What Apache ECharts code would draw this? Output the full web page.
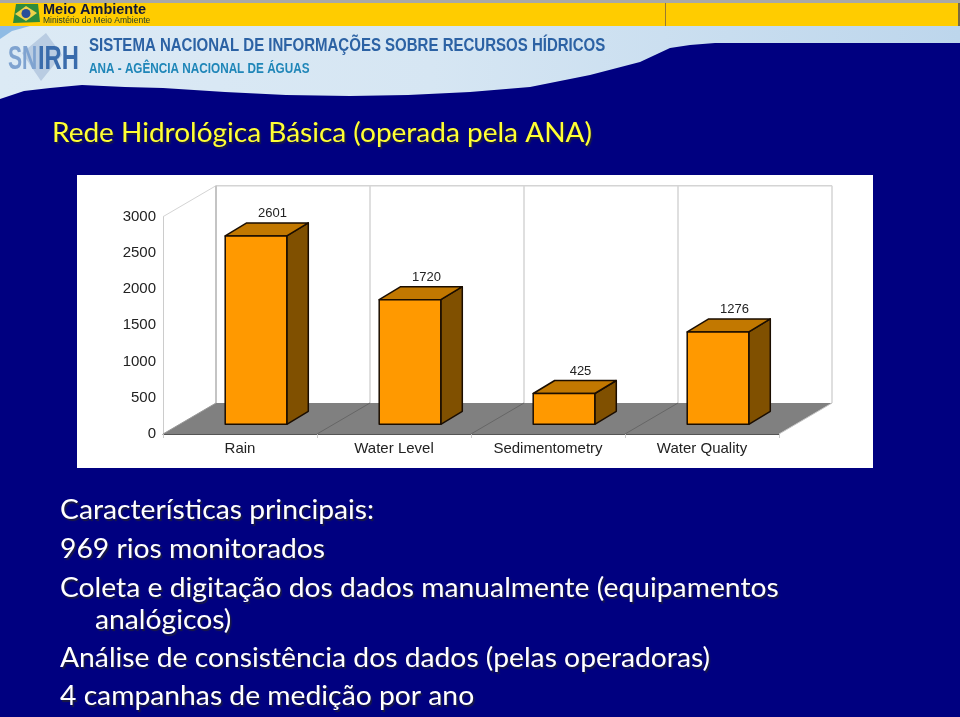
<!DOCTYPE html>
<html><head><meta charset="utf-8">
<style>html,body{margin:0;padding:0;background:#000080}#c{width:960px;height:717px}</style>
<script src="https://cdn.jsdelivr.net/npm/echarts@6/dist/echarts.min.js"></script>
</head><body><div id="c"></div>
<script>
const categories = ['Rain','Water Level','Sedimentometry','Water Quality'];
const stationCounts = [2601,1720,425,1276];
const yMax = 3000, yStep = 500;
const titleText = 'Rede Hidrológica Básica (operada pela ANA)';
const bodyLines = [
 ['Características principais:',60,511],
 ['969 rios monitorados',60,550],
 ['Coleta e digitação dos dados manualmente (equipamentos',60,589],
 ['analógicos)',95,621],
 ['Análise de consistência dos dados (pelas operadoras)',60,659],
 ['4 campanhas de medição por ano',60,697]
];
const wavePts = [[0,99],[12,95],[24,91],[50,88],[82,85],[125,87],[163,88],[225,92],[286,95],[350,96],[408,95],[470,92],[530,87],[590,75],[640,62],[670,48],[690,45],[715,43],[960,43]];

const BAND = 0.4, OFF_X = 16, OFF_Y = -9.7, D_X = 21.5, D_Y = -13, WALL_X = 53, WALL_Y = -31;
const FACE='#FF9900', TOP='#C27800', SIDE='#805000', EDGE='#1a0d00', WALL='#d4d4d4';

function backdrop(params, api){
  const cs = params.coordSys, x0=cs.x, x1=cs.x+cs.width, yT=cs.y, yB=cs.y+cs.height;
  const line=(a,b,c,d,col,w)=>({type:'line',shape:{x1:a,y1:b,x2:c,y2:d},style:{stroke:col,lineWidth:w||1.5}});
  const kids=[{type:'polygon',shape:{points:[[x0,yB],[x1,yB],[x1+WALL_X,yB+WALL_Y],[x0+WALL_X,yB+WALL_Y]]},style:{fill:'#808080'}}];
  kids.push(line(x0,yT,x0+WALL_X,yT+WALL_Y,WALL,1));
  kids.push(line(x0+WALL_X,yT+WALL_Y,x1+WALL_X,yT+WALL_Y,WALL));
  kids.push(line(x0+WALL_X,yT+WALL_Y,x0+WALL_X,yB+WALL_Y,'#c4c4c4',2));
  const bw=cs.width/categories.length;
  for(let i=1;i<=categories.length;i++){
    const x=x0+bw*i;
    kids.push(line(x+WALL_X,yT+WALL_Y,x+WALL_X,yB+WALL_Y,WALL));
    if(i<categories.length) kids.push(line(x,yB,x+WALL_X,yB+WALL_Y,'#666',1));
  }
  kids.push(line(x0,yB,x0+WALL_X,yB+WALL_Y,'#999',1));
  kids.push(line(x1,yB,x1+WALL_X,yB+WALL_Y,'#c4c4c4',1));
  return {type:'group',children:kids};
}
function bar3d(params, api){
  const i=api.value(0), v=api.value(1);
  const top=api.coord([i,v]), base=api.coord([i,0]);
  const w=api.size([1,0])[0]*BAND;
  const l=top[0]-w/2+OFF_X, r=l+w, t=top[1]+OFF_Y, b=base[1]+OFF_Y;
  const st=f=>({fill:f,stroke:EDGE,lineWidth:1.5,lineJoin:'round'});
  return {type:'group',children:[
    {type:'polygon',shape:{points:[[r,t],[r+D_X,t+D_Y],[r+D_X,b+D_Y],[r,b]]},style:st(SIDE)},
    {type:'polygon',shape:{points:[[l,t],[l+D_X,t+D_Y],[r+D_X,t+D_Y],[r,t]]},style:st(TOP)},
    {type:'rect',shape:{x:l,y:t,width:w,height:b-t},style:st(FACE)},
    {type:'text',style:{text:String(v),x:(l+r)/2+16.5,y:t-22.5,align:'center',verticalAlign:'middle',
      font:'13px "Liberation Sans"',fill:'#222'}}
  ]};
}
const txt=(text,x,y,o,sx)=>({type:'text',z:-5,x,y,scaleX:sx||1,originX:0,originY:0,style:Object.assign({text,x:0,y:0,verticalAlign:'middle',align:'left'},o)});
const shadow={textShadowColor:'#1a1a40',textShadowOffsetX:1.5,textShadowOffsetY:1.5,textShadowBlur:1};
const graphic=[
 {type:'rect',z:-10,shape:{x:77,y:175,width:796,height:293},style:{fill:'#fff'}},
 {type:'rect',z:-10,shape:{x:0,y:0,width:960,height:3},style:{fill:'#A8A8A8'}},
 {type:'rect',z:-10,shape:{x:0,y:3,width:960,height:23},style:{fill:'#FFCC00'}},
 {type:'rect',z:-10,shape:{x:665,y:3,width:1,height:23},style:{fill:'#9a7a30'}},
 {type:'rect',z:-10,shape:{x:958,y:3,width:2,height:23},style:{fill:'#7a6a40'}},
 {type:'rect',z:-10,shape:{x:0,y:26,width:960,height:80},style:{fill:{type:'linear',x:0,y:0,x2:1,y2:0,colorStops:[{offset:0,color:'#DCEAF5'},{offset:.45,color:'#D6E6F3'},{offset:1,color:'#BDD6EC'}]}}},
 {type:'polygon',z:-10,shape:{points:[[0,26],[30,26],[12,31],[0,39]]},style:{fill:'#8FBBE4'}},
 {type:'polygon',z:-9,shape:{points:wavePts.concat([[960,175],[0,175]])},style:{fill:'#000080'}},
 // emblem
 {type:'polygon',z:-6,shape:{points:[[16,4],[38,4],[40,22],[13,23]]},style:{fill:'#2E8B3C'}},
 {type:'polygon',z:-6,shape:{points:[[26,6],[37,13],[26,21],[15,14]]},style:{fill:'#EFD24A'}},
 {type:'circle',z:-6,shape:{cx:26,cy:13.5,r:4.5},style:{fill:'#2A4F9A'}},
 txt('Meio Ambiente',43,10,{font:'bold 14.5px "Liberation Sans"',fill:'#10183a'}),
 txt('Ministério do Meio Ambiente',43,20.5,{font:'8.5px "Liberation Sans"',fill:'#1d3a2a'}),
 // SNIRH mark
 {type:'polygon',z:-6,shape:{points:[[46,33],[62,55],[41,81],[22,53]]},style:{fill:'#B9CCE2'}},
 txt('SN',8,60,{font:'bold 33px "Liberation Sans"',fill:'#7FA3D0'},0.64),
 txt('IRH',38,60,{font:'bold 33px "Liberation Sans"',fill:'#3A6CAC'},0.72),
 txt('SISTEMA NACIONAL DE INFORMAÇÕES SOBRE RECURSOS HÍDRICOS',89,46,{font:'bold 18px "Liberation Sans"',fill:'#2C62A4'},0.834),
 txt('ANA - AGÊNCIA NACIONAL DE ÁGUAS',89,69,{font:'bold 14.5px "Liberation Sans"',fill:'#1F86B8'},0.81),
 txt(titleText,52,134,Object.assign({font:'26px Lato, "Noto Sans"',fill:'#FFFF33'},shadow),1.077)
].concat(bodyLines.map(l=>txt(l[0],l[1],l[2],Object.assign({font:'26px Lato, "Noto Sans"',fill:'#fff'},shadow),1.087)));

const chart=echarts.init(document.getElementById('c'),null,{renderer:'canvas'});
chart.setOption({
  animation:false,
  backgroundColor:'#000080',
  graphic:{elements:graphic},
  grid:{left:163,right:181,top:216.7,bottom:283,containLabel:false},
  xAxis:{type:'category',data:categories,boundaryGap:true,
    axisLine:{show:true,lineStyle:{color:'#555',width:1}},
    axisTick:{show:true,length:4,lineStyle:{color:'#ccc'}},
    axisLabel:{margin:7,fontFamily:'Liberation Sans',fontSize:15,color:'#222'},splitLine:{show:false}},
  yAxis:{type:'value',min:0,max:yMax,interval:yStep,
    axisLine:{show:true,lineStyle:{color:'#ccc',width:1}},
    axisTick:{show:false},
    axisLabel:{margin:7,padding:[4,0,0,0],fontFamily:'Liberation Sans',fontSize:15,color:'#222',formatter:v=>String(v)},splitLine:{show:false}},
  series:[
    {type:'custom',z:1,silent:true,coordinateSystem:'cartesian2d',data:[[0,0]],renderItem:backdrop,clip:false},
    {type:'custom',z:3,coordinateSystem:'cartesian2d',data:categories.map((c,i)=>[i,stationCounts[i]]),encode:{x:0,y:1},renderItem:bar3d,clip:false}
  ]
});
</script></body></html>
